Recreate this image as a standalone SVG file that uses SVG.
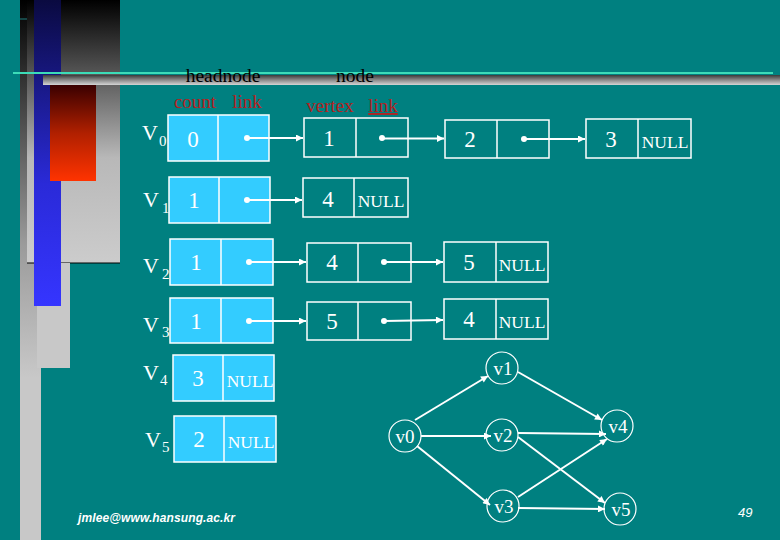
<svg xmlns="http://www.w3.org/2000/svg" width="780" height="540" viewBox="0 0 780 540">
<defs>
<linearGradient id="gStrip" x1="0" y1="0" x2="0" y2="1">
<stop offset="0" stop-color="#000"/><stop offset="0.45" stop-color="#9a9a9a"/><stop offset="0.7" stop-color="#c8c8c8"/><stop offset="1" stop-color="#c8c8c8"/>
</linearGradient>
<linearGradient id="gBig" x1="0" y1="0" x2="0" y2="1">
<stop offset="0" stop-color="#000"/><stop offset="0.6" stop-color="#b8b8b8"/><stop offset="1" stop-color="#cccccc"/>
</linearGradient>
<linearGradient id="gBlue" x1="0" y1="0" x2="0" y2="1">
<stop offset="0" stop-color="#0a0a40"/><stop offset="0.6" stop-color="#2a2ad8"/><stop offset="1" stop-color="#3535ff"/>
</linearGradient>
<linearGradient id="gRed" x1="0" y1="0" x2="0" y2="1">
<stop offset="0" stop-color="#3a0000"/><stop offset="0.5" stop-color="#b02000"/><stop offset="1" stop-color="#ff3300"/>
</linearGradient>
<linearGradient id="gBar" x1="0" y1="0" x2="0" y2="1">
<stop offset="0" stop-color="#3a3a3a"/><stop offset="0.5" stop-color="#8a8a8a"/><stop offset="1" stop-color="#d4d4d4"/>
</linearGradient>
<marker id="ah" viewBox="0 0 10 10" refX="10" refY="5" markerWidth="9" markerHeight="7" markerUnits="userSpaceOnUse" orient="auto">
<path d="M0,0 L10,5 L0,10 Z" fill="#fff"/>
</marker>
<style>
.t{font-family:"Liberation Serif","Times New Roman",serif;fill:#fff}
.hd{font-family:"Liberation Serif","Times New Roman",serif;font-size:19.5px;fill:#000;text-anchor:middle}
.rd{font-family:"Liberation Serif","Times New Roman",serif;font-size:19px;fill:#b22222;text-anchor:middle}
.dg{font-size:23px;text-anchor:middle}
.nl{font-size:17.5px;text-anchor:middle}
.vl{font-size:22px}
.sb{font-size:15px}
.hb{fill:#33ccff;stroke:#fff;stroke-width:1.5}
.nb{fill:none;stroke:#fff;stroke-width:1.5}
.dv{stroke:#fff;stroke-width:1.5}
.ln{stroke:#fff;stroke-width:2;fill:none;marker-end:url(#ah)}
.gc{fill:none;stroke:#fff;stroke-width:1.2}
.gl{font-size:19px;text-anchor:middle}
</style>
</defs>
<rect width="780" height="540" fill="#008080"/>
<g id="decor">
<rect x="20" y="0" width="21" height="540" fill="url(#gStrip)"/>
<rect x="27" y="0" width="93" height="263" fill="url(#gBig)"/>
<line x1="27" y1="263" x2="120" y2="263" stroke="#000" stroke-width="1"/>
<rect x="37" y="263" width="33" height="105" fill="#c8c8c8"/>
<rect x="34" y="0" width="27" height="306" fill="url(#gBlue)"/>
<rect x="50" y="85" width="46" height="96" fill="url(#gRed)"/>
<line x1="20" y1="19" x2="27" y2="19" stroke="#208080" stroke-width="1"/>
<rect x="43" y="75" width="737" height="10" fill="url(#gBar)"/>
<line x1="13" y1="73" x2="773" y2="73" stroke="#3cdcb8" stroke-width="2"/>
</g>
<g id="headers">
<text class="hd" x="223" y="82">headnode</text>
<text class="hd" x="355" y="82">node</text>
<text class="rd" x="195" y="108">count</text>
<text class="rd" x="247" y="108">link</text>
<text class="rd" x="330" y="112">vertex</text>
<text class="rd" x="383" y="112" text-decoration="underline">link</text>
</g>
<g id="labels">
<text class="t vl" x="142" y="140">V</text><text class="t sb" x="159" y="146">0</text>
<text class="t vl" x="143" y="207">V</text><text class="t sb" x="162" y="213">1</text>
<text class="t vl" x="143" y="273">V</text><text class="t sb" x="162" y="279">2</text>
<text class="t vl" x="143" y="332">V</text><text class="t sb" x="162" y="337">3</text>
<text class="t vl" x="143" y="380">V</text><text class="t sb" x="160" y="385">4</text>
<text class="t vl" x="145" y="447">V</text><text class="t sb" x="162" y="452">5</text>
</g>
<g id="head0"><rect class="hb" x="168" y="115" width="101" height="46"/><line class="dv" x1="218" y1="115" x2="218" y2="161"/><text class="t dg" x="193" y="147">0</text></g>
<g id="head1"><rect class="hb" x="169" y="177" width="101" height="46"/><line class="dv" x1="219" y1="177" x2="219" y2="223"/><text class="t dg" x="194" y="208">1</text></g>
<g id="head2"><rect class="hb" x="170" y="239" width="103" height="46"/><line class="dv" x1="221" y1="239" x2="221" y2="285"/><text class="t dg" x="196" y="270">1</text></g>
<g id="head3"><rect class="hb" x="170" y="298" width="103" height="45"/><line class="dv" x1="221" y1="298" x2="221" y2="343"/><text class="t dg" x="196" y="329">1</text></g>
<g id="head4"><rect class="hb" x="173" y="355" width="101" height="46"/><line class="dv" x1="223" y1="355" x2="223" y2="401"/><text class="t dg" x="198" y="386">3</text><text class="t nl" x="250" y="387">NULL</text></g>
<g id="head5"><rect class="hb" x="174" y="416" width="102" height="46"/><line class="dv" x1="224" y1="416" x2="224" y2="462"/><text class="t dg" x="199" y="447">2</text><text class="t nl" x="251" y="448">NULL</text></g>
<g id="n0a"><rect class="nb" x="304" y="118" width="104" height="39"/><line class="dv" x1="356" y1="118" x2="356" y2="157"/><text class="t dg" x="329" y="146">1</text></g>
<g id="n0b"><rect class="nb" x="445" y="120" width="104" height="38"/><line class="dv" x1="497" y1="120" x2="497" y2="158"/><text class="t dg" x="470" y="147">2</text></g>
<g id="n0c"><rect class="nb" x="586" y="119" width="105" height="39"/><line class="dv" x1="638" y1="119" x2="638" y2="158"/><text class="t dg" x="611" y="147">3</text><text class="t nl" x="665" y="148">NULL</text></g>
<g id="n1a"><rect class="nb" x="303" y="178" width="105" height="39"/><line class="dv" x1="354" y1="178" x2="354" y2="217"/><text class="t dg" x="328" y="207">4</text><text class="t nl" x="381" y="207">NULL</text></g>
<g id="n2a"><rect class="nb" x="307" y="243" width="104" height="39"/><line class="dv" x1="358" y1="243" x2="358" y2="282"/><text class="t dg" x="332" y="270">4</text></g>
<g id="n2b"><rect class="nb" x="444" y="242" width="104" height="40"/><line class="dv" x1="496" y1="242" x2="496" y2="282"/><text class="t dg" x="469" y="270">5</text><text class="t nl" x="522" y="271">NULL</text></g>
<g id="n3a"><rect class="nb" x="307" y="302" width="104" height="38"/><line class="dv" x1="358" y1="302" x2="358" y2="340"/><text class="t dg" x="332" y="329">5</text></g>
<g id="n3b"><rect class="nb" x="444" y="299" width="104" height="40"/><line class="dv" x1="496" y1="299" x2="496" y2="339"/><text class="t dg" x="469" y="327">4</text><text class="t nl" x="522" y="328">NULL</text></g>
<g id="gv0"><circle class="gc" cx="405" cy="436" r="16"/><text class="t gl" x="405" y="443">v0</text></g>
<g id="gv1"><circle class="gc" cx="502" cy="368" r="16"/><text class="t gl" x="503" y="375">v1</text></g>
<g id="gv2"><circle class="gc" cx="502" cy="435" r="16"/><text class="t gl" x="503" y="442">v2</text></g>
<g id="gv3"><circle class="gc" cx="503" cy="506" r="16"/><text class="t gl" x="504" y="513">v3</text></g>
<g id="gv4"><circle class="gc" cx="617" cy="426" r="16"/><text class="t gl" x="618" y="433">v4</text></g>
<g id="gv5"><circle class="gc" cx="620" cy="509" r="16"/><text class="t gl" x="621" y="516">v5</text></g>
<g id="connectors">
<g fill="#fff">
<circle cx="247" cy="138" r="3"/><circle cx="382" cy="138" r="3"/><circle cx="524" cy="139" r="3"/>
<circle cx="247" cy="200" r="3"/>
<circle cx="249" cy="262" r="3"/><circle cx="384" cy="262" r="3"/>
<circle cx="249" cy="321" r="3"/><circle cx="384" cy="321" r="3"/>
</g>
<line class="ln" x1="247" y1="138" x2="303" y2="138"/>
<line class="ln" x1="382" y1="138.5" x2="444" y2="138.5"/>
<line class="ln" x1="524" y1="139" x2="585" y2="139"/>
<line class="ln" x1="247" y1="200" x2="302" y2="200"/>
<line class="ln" x1="249" y1="262" x2="306" y2="262"/>
<line class="ln" x1="384" y1="262" x2="443" y2="262"/>
<line class="ln" x1="249" y1="321" x2="306" y2="321"/>
<line class="ln" x1="384" y1="321" x2="443" y2="320"/>
<line class="ln" x1="415" y1="420" x2="488" y2="376"/>
<line class="ln" x1="421" y1="436" x2="491" y2="436"/>
<line class="ln" x1="417" y1="446" x2="490" y2="505"/>
<line class="ln" x1="518" y1="372" x2="602" y2="420"/>
<line class="ln" x1="518" y1="433" x2="606" y2="434"/>
<line class="ln" x1="518" y1="437" x2="605" y2="503"/>
<line class="ln" x1="518" y1="497" x2="607" y2="439"/>
<line class="ln" x1="518" y1="508" x2="605" y2="509"/>
</g>
<g id="footer">
<text x="78" y="522" font-family="'Liberation Sans',Arial,sans-serif" font-size="12" font-weight="bold" font-style="italic" fill="#fff" textLength="157">jmlee@www.hansung.ac.kr</text>
<text x="738" y="517" font-family="'Liberation Sans',Arial,sans-serif" font-size="13" font-style="italic" fill="#fff">49</text>
</g>
</svg>
